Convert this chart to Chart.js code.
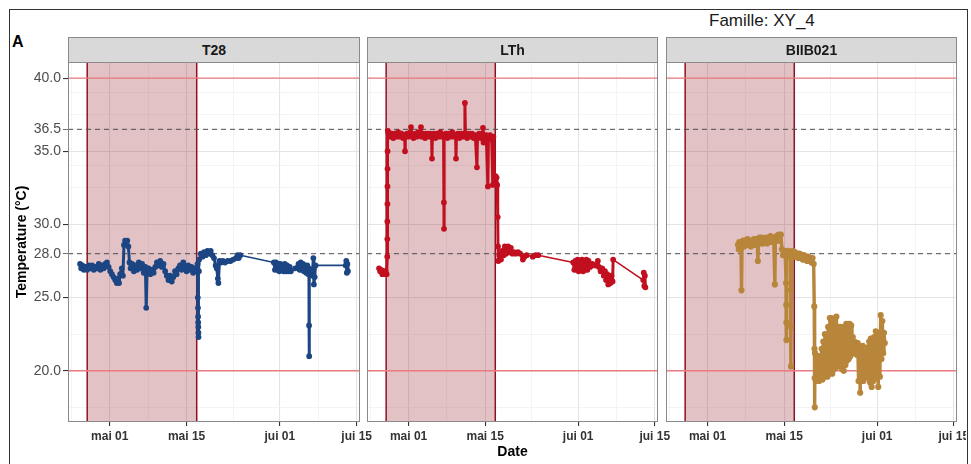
<!DOCTYPE html>
<html>
<head>
<meta charset="utf-8">
<script src="https://cdn.jsdelivr.net/npm/chart.js@4.4.1/dist/chart.umd.min.js"></script>
<style>
  body { margin: 0; background: #fff; width: 971px; height: 464px; overflow: hidden; position: relative;
         font-family: "Liberation Sans", Arial, sans-serif; }
  #frame { position: absolute; left: 9px; top: 9px; width: 959px; height: 480px; border: 1px solid #333; box-sizing: border-box; }
  #clip { position: absolute; left: 0; top: 0; width: 966px; height: 464px; overflow: hidden; }
  .panel { position: absolute; top: 56px; }
  .strip { position: absolute; top: 37px; height: 26px; background: #d9d9d9; border: 1px solid #8a8a8a; box-sizing: border-box;
           display: flex; align-items: center; justify-content: center; font-weight: bold; font-size: 14px; color: #1a1a1a; }
  #famille { position: absolute; left: 709px; top: 11px; font-size: 17px; line-height: 20px; color: #1a1a1a; }
  #tag { position: absolute; left: 12px; top: 33px; font-size: 16px; line-height: 18px; font-weight: bold; color: #000; }
</style>
</head>
<body>
<div id="frame"></div>
<div id="famille">Famille: XY_4</div>
<div id="tag">A</div>
<div id="clip">
  <div class="panel" style="left:0px"><canvas id="c0" width="380" height="408"></canvas></div>
  <div class="panel" style="left:347px"><canvas id="c1" width="331" height="408"></canvas></div>
  <div class="panel" style="left:646px"><canvas id="c2" width="331" height="408"></canvas></div>
</div>
<div class="strip" style="left:68px;width:292px">T28</div>
<div class="strip" style="left:367px;width:291px">LTh</div>
<div class="strip" style="left:666px;width:291px">BIIB021</div>
<script>
// days counted from 1 May
var dateTicks = [0, 14, 31, 45];
var dateLabels = ['mai 01', 'mai 15', 'jui 01', 'jui 15'];
var dateGrid = [-7, 0, 7, 14, 22.5, 31, 38, 45];
var dayRange = [-7.6, 45.6];

var tempTicks = [20, 25, 28, 30, 35, 36.5, 40];
var tempGrid = [17.5, 20, 22.5, 25, 28, 30, 32.5, 34, 35, 36.5, 37.5, 39, 40];
var tempMajor = [20, 25, 30, 35, 40];
var tempRange = [16.5, 41.1];

var heatWindow = [-4.1, 15.85];
var limitLines = [20, 40];
var thresholdLines = [28, 36.5];

var panelNames = ['T28', 'LTh', 'BIIB021'];
var panelColors = ['#1c4583', '#c20f1f', '#b8863b'];

// [day, temperature]
var t28 = [
  [-5.4,27.3],[-5.2,27.0],[-5.0,27.2],[-4.7,26.9],[-4.4,27.1],[-4.1,26.9],[-3.8,27.2],[-3.5,27.0],
  [-3.2,27.2],[-2.9,26.9],[-2.6,27.1],[-2.3,27.0],[-2.0,27.3],[-1.7,26.9],[-1.4,27.2],[-1.1,27.0],
  [-0.8,27.3],[-0.5,27.4],[-0.2,27.1],[0.1,26.8],[0.4,26.6],[0.7,26.4],[1.0,26.2],[1.3,26.0],
  [1.5,26.3],[1.7,26.0],[1.9,26.6],[2.2,27.0],[2.4,26.5],[2.6,28.6],[2.8,28.9],[3.0,28.7],
  [3.2,28.9],[3.4,28.5],[3.6,27.4],[3.8,27.0],[4.1,27.3],[4.4,26.8],[4.7,27.2],[5.0,26.9],
  [5.3,27.4],[5.6,27.0],[5.9,27.3],[6.2,26.7],[6.5,27.1],[6.65,24.3],[6.8,26.7],[7.1,27.0],
  [7.4,26.6],[7.7,26.9],[8.0,26.7],[8.3,27.1],[8.6,27.4],[8.9,27.2],[9.2,27.5],[9.5,27.1],
  [9.8,27.3],[10.1,26.8],[10.4,26.5],[10.7,26.2],[11.0,26.5],[11.3,26.1],[11.6,26.4],[11.9,26.8],
  [12.2,26.6],[12.5,27.0],[12.8,27.2],[13.1,26.9],[13.4,27.4],[13.7,27.1],[14.0,26.8],[14.3,27.2],
  [14.6,26.9],[14.9,27.1],[15.2,26.7],[15.5,27.0],[15.8,26.8],[16.0,27.3],[16.05,25.0],[16.08,24.3],
  [16.1,23.7],[16.12,23.3],[16.14,23.0],[16.16,22.6],[16.18,22.3],[16.25,26.8],[16.3,27.6],[16.6,28.0],
  [16.9,27.8],[17.2,28.1],[17.5,27.9],[17.8,28.2],[18.1,28.0],[18.4,28.2],[18.7,27.9],[19.0,27.7],
  [19.3,27.2],[19.5,27.0],[19.7,26.3],[19.8,26.0],[20.0,27.5],[20.3,27.4],[20.6,27.5],[21.0,27.4],
  [21.5,27.5],[22.0,27.5],[22.5,27.6],[23.0,27.7],[23.3,27.9],[23.5,27.7],[23.8,27.9],
  [29.9,27.4],[30.1,26.9],[30.3,27.4],[30.5,26.9],[30.7,27.3],[30.9,26.8],[31.1,27.3],[31.3,26.9],
  [31.5,27.2],[31.7,26.8],[31.9,27.3],[32.1,26.8],[32.3,27.2],[32.5,26.8],[32.8,27.1],[33.0,26.8],
  [33.8,27.0],[34.4,27.3],[34.6,26.9],[34.8,27.4],[35.0,26.9],[35.2,27.3],[35.4,26.8],[35.6,27.2],
  [35.8,26.7],[36.0,27.2],[36.2,26.6],[36.3,27.0],[36.32,23.1],[36.34,21.0],[36.38,26.6],[36.6,26.9],
  [36.9,26.5],[37.1,27.7],[37.2,25.9],[37.35,26.4],[37.5,27.2],[43.0,27.2],[43.1,27.5],[43.2,26.7],
  [43.3,27.3],[43.4,26.8]
];

var lth = [
  [-5.4,27.0],[-5.2,26.8],[-5.0,26.9],[-4.8,26.6],[-4.6,26.8],[-4.4,26.6],[-4.2,26.8],[-4.0,26.6],
  [-3.9,27.8],[-3.89,29.0],[-3.88,30.2],[-3.87,31.4],[-3.86,32.6],[-3.85,33.8],[-3.84,35.0],[-3.8,36.4],
  [-3.7,36.3],[-3.4,36.0],[-3.1,36.2],[-2.8,35.9],[-2.5,36.2],[-2.2,36.0],[-1.9,36.3],[-1.6,36.0],
  [-1.3,36.2],[-1.0,35.9],[-0.7,36.1],[-0.65,35.0],[-0.6,36.0],[-0.3,36.2],[0.0,36.0],[0.3,36.3],
  [0.44,36.65],[0.6,36.1],[0.9,35.9],[1.2,36.2],[1.5,36.0],[1.8,36.3],[2.1,36.1],[2.27,36.65],
  [2.4,36.0],[2.7,36.2],[3.0,35.9],[3.3,36.2],[3.6,36.0],[3.9,36.2],[4.2,36.0],[4.28,34.5],
  [4.35,36.1],[4.6,36.2],[4.9,35.9],[5.2,36.2],[5.5,36.0],[5.8,36.3],[6.1,36.0],[6.4,36.1],
  [6.46,31.5],[6.48,29.7],[6.5,36.0],[6.8,36.2],[7.1,35.9],[7.4,36.2],[7.7,36.0],[8.0,36.3],
  [8.3,36.0],[8.6,36.1],[8.67,34.5],[8.75,36.0],[9.0,36.2],[9.3,35.9],[9.6,36.2],[9.9,36.0],
  [10.2,36.2],[10.3,38.3],[10.4,36.1],[10.7,35.9],[11.0,36.2],[11.3,36.0],[11.6,36.2],[11.9,35.9],
  [12.2,36.1],[12.5,33.9],[12.6,36.0],[12.9,36.2],[13.2,35.9],[13.5,36.2],[13.6,36.6],[13.7,35.6],
  [13.9,36.0],[14.2,36.1],[14.5,32.6],[14.6,35.9],[14.9,36.1],[15.2,35.8],[15.4,32.7],[15.5,36.0],
  [15.7,33.2],[15.8,33.0],[15.9,33.3],[16.0,32.8],[16.1,33.2],[16.2,32.7],[16.3,30.5],[16.35,28.5],
  [16.4,27.5],[16.6,27.9],[16.9,27.6],[17.1,28.2],[17.4,27.9],[17.6,28.5],[17.8,28.0],[18.0,28.3],
  [18.2,28.5],[18.4,28.1],[18.7,28.4],[19.0,28.0],[19.3,28.1],[19.6,28.0],[20.0,28.1],[20.4,28.0],
  [20.9,27.6],[21.2,27.8],[21.6,27.9],[22.7,27.8],[23.2,27.9],[23.7,27.9],
  [30.1,27.4],[30.3,26.9],[30.5,27.5],[30.7,26.9],[30.9,27.6],[31.1,26.8],[31.3,27.5],[31.5,26.9],
  [31.7,27.6],[31.9,26.8],[32.1,27.5],[32.3,26.9],[32.5,27.6],[32.7,26.9],[32.9,27.5],[33.2,27.1],
  [33.6,27.3],[34.0,27.2],[34.4,27.2],[34.6,27.5],[34.8,27.1],[35.1,26.8],[35.4,27.0],[35.7,26.5],
  [35.9,26.8],[36.1,26.2],[36.3,26.6],[36.5,25.9],[36.7,26.4],[36.9,26.0],[37.1,26.5],[37.3,26.1],
  [37.4,27.6],[42.9,26.2],[43.0,26.7],[43.1,25.8],[43.2,26.5],[43.3,25.7]
];

var biib = [
  [5.56,28.6],[5.7,28.3],[5.8,28.8],[6.0,28.4],[6.1,28.7],[6.2,25.5],[6.3,28.5],[6.5,28.9],
  [6.7,28.5],[6.9,28.9],[7.1,28.6],[7.3,29.0],[7.5,28.6],[7.7,28.9],[7.9,28.5],[8.1,28.9],
  [8.3,28.6],[8.5,29.0],[8.7,28.6],[8.9,29.0],[9.1,28.7],[9.2,27.5],[9.3,28.8],[9.5,29.1],
  [9.7,28.7],[9.9,29.1],[10.1,28.7],[10.3,29.0],[10.5,28.8],[10.7,29.1],[10.9,28.7],[11.1,29.1],
  [11.3,28.8],[11.5,29.2],[11.7,28.8],[11.9,29.1],[12.1,28.9],[12.3,25.9],[12.4,29.0],[12.6,29.2],
  [12.8,28.9],[13.0,29.3],[13.2,28.9],[13.4,29.3],[13.6,28.3],[13.8,27.9],[14.0,28.2],[14.2,27.9],
  [14.35,26.0],[14.38,24.5],[14.4,23.3],[14.42,22.1],[14.5,27.8],[14.7,28.2],[14.9,27.9],[15.1,28.1],
  [15.2,25.5],[15.23,23.0],[15.25,20.3],[15.35,27.9],[15.6,28.2],[15.8,27.8],[16.0,28.1],[16.2,27.8],
  [16.4,28.0],[16.6,27.7],[16.8,28.0],[17.0,27.7],[17.2,27.9],[17.4,27.6],[17.6,27.9],[17.8,27.6],
  [18.0,27.8],[18.2,27.5],[18.4,27.8],[18.6,27.5],[18.8,27.7],[19.0,27.4],[19.2,27.7],[19.4,27.3],
  [19.5,24.4],[19.55,21.5],[19.58,19.5],[19.6,17.5],[19.65,21.2],[19.8,19.3],[19.95,21.0],[20.1,19.4],
  [20.25,21.0],[20.4,19.3],[20.55,20.9],[20.7,19.5],[20.85,21.5],[21.0,19.4],[21.15,22.0],[21.3,19.6],
  [21.45,22.5],[21.6,19.7],[21.75,22.4],[21.9,19.6],[22.05,23.0],[22.2,19.8],[22.35,23.6],[22.5,19.9],
  [22.65,23.6],[22.8,19.8],[22.95,23.0],[23.1,20.1],[23.25,23.4],[23.4,20.2],[23.55,23.7],[23.7,20.4],
  [23.85,22.8],[24.0,20.3],[24.15,23.0],[24.3,20.5],[24.45,23.0],[24.6,20.1],[24.75,22.6],[24.9,20.0],
  [25.05,22.9],[25.2,20.4],[25.35,23.2],[25.5,20.7],[25.65,22.8],[25.8,20.8],[25.95,23.2],[26.1,21.0],
  [26.25,23.1],[26.4,21.2],[26.55,22.3],[26.7,21.2],[26.85,22.0],[27.0,21.4],[27.15,21.9],[27.3,21.1],
  [27.45,21.9],[27.6,19.3],[27.75,21.5],[27.9,18.5],[28.05,21.2],[28.2,19.4],[28.35,21.7],[28.5,19.3],
  [28.65,21.3],[28.8,19.8],[28.95,21.0],[29.1,19.6],[29.25,21.6],[29.4,19.5],[29.55,22.0],[29.7,19.2],
  [29.85,22.2],[30.0,18.9],[30.15,21.4],[30.3,19.3],[30.45,22.3],[30.6,19.8],[30.75,22.7],[30.9,19.5],
  [31.05,21.8],[31.2,18.9],[31.35,22.6],[31.5,19.6],[31.65,23.8],[31.8,20.8],[31.95,23.4],[32.1,21.2],
  [32.25,22.6],[32.4,21.9]
];

var FONT = '"Liberation Sans", Arial, sans-serif';

// heat window, limit lines and panel border, drawn through the panel's own scales
var panelDecor = {
  id: 'panelDecor',
  beforeDatasetsDraw: function (chart) {
    var ctx = chart.ctx, a = chart.chartArea, x = chart.scales.x, y = chart.scales.y;
    ctx.save();
    ctx.beginPath();
    ctx.rect(a.left, a.top, a.width, a.height);
    ctx.clip();
    var x0 = x.getPixelForValue(heatWindow[0]);
    var x1 = x.getPixelForValue(heatWindow[1]);
    ctx.fillStyle = 'rgba(140, 10, 25, 0.25)';
    ctx.fillRect(x0, a.top, x1 - x0, a.height);
    ctx.strokeStyle = '#8e1320';
    ctx.lineWidth = 1.5;
    [x0, x1].forEach(function (px) {
      ctx.beginPath(); ctx.moveTo(px, a.top); ctx.lineTo(px, a.bottom); ctx.stroke();
    });
    ctx.strokeStyle = '#ec7b80';
    ctx.lineWidth = 1.4;
    limitLines.forEach(function (v) {
      var py = y.getPixelForValue(v);
      ctx.beginPath(); ctx.moveTo(a.left, py); ctx.lineTo(a.right, py); ctx.stroke();
    });
    ctx.strokeStyle = '#4d4d4d';
    ctx.lineWidth = 1;
    ctx.setLineDash([5, 4]);
    thresholdLines.forEach(function (v) {
      var py = y.getPixelForValue(v);
      ctx.beginPath(); ctx.moveTo(a.left, py); ctx.lineTo(a.right, py); ctx.stroke();
    });
    ctx.restore();
  },
  afterDraw: function (chart) {
    var ctx = chart.ctx, a = chart.chartArea;
    ctx.save();
    ctx.strokeStyle = '#8a8a8a';
    ctx.lineWidth = 1;
    ctx.strokeRect(Math.round(a.left) + 0.5, Math.round(a.top) - 0.5, Math.round(a.width) - 1, Math.round(a.height));
    ctx.restore();
  }
};

function makePanel(id, series, color, idx) {
  var first = idx === 0;
  var dense = idx === 2 ? 3.4 : 3;
  return new Chart(document.getElementById(id), {
    type: 'line',
    data: {
      datasets: [{
        label: panelNames[idx],
        data: series.map(function (p) { return { x: p[0], y: p[1] }; }),
        borderColor: color,
        backgroundColor: color,
        borderWidth: dense,
        borderJoinStyle: 'round',
        borderCapStyle: 'round',
        // long gaps between readings are joined by a thin line
        segment: {
          borderWidth: function (c) { return c.p1.parsed.x - c.p0.parsed.x > 1 ? 1.6 : dense; }
        },
        pointRadius: 1.4,
        pointHoverRadius: 0,
        tension: 0,
        fill: false
      }]
    },
    options: {
      responsive: false,
      animation: false,
      events: [],
      layout: { padding: { top: 6, bottom: 0, left: first ? 0 : 20, right: 20 } },
      plugins: { legend: { display: false }, tooltip: { enabled: false } },
      scales: {
        x: {
          type: 'linear',
          min: dayRange[0],
          max: dayRange[1],
          afterBuildTicks: function (s) { s.ticks = dateGrid.map(function (v) { return { value: v }; }); },
          afterFit: function (s) { s.height = 42; },
          border: { display: false },
          grid: {
            color: function (c) { return dateTicks.indexOf(c.tick.value) >= 0 ? '#e4e4e4' : '#efefef'; },
            lineWidth: function (c) { return dateTicks.indexOf(c.tick.value) >= 0 ? 1.1 : 0.7; },
            tickLength: 4,
            tickColor: function (c) { return dateTicks.indexOf(c.tick.value) >= 0 ? '#333' : 'rgba(0,0,0,0)'; }
          },
          ticks: {
            autoSkip: false,
            maxRotation: 0,
            padding: 3,
            color: '#333',
            font: { family: FONT, size: 12, weight: 'bold' },
            callback: function (v) { var i = dateTicks.indexOf(v); return i >= 0 ? dateLabels[i] : ''; }
          },
          title: {
            display: idx === 1,
            text: 'Date',
            color: '#000',
            padding: { top: 0, bottom: 3 },
            font: { family: FONT, size: 14, weight: 'bold' }
          }
        },
        y: {
          type: 'linear',
          min: tempRange[0],
          max: tempRange[1],
          afterBuildTicks: function (s) { s.ticks = tempGrid.map(function (v) { return { value: v }; }); },
          afterFit: function (s) {
            s.width = first ? 68 : 0;
            // labels sit well inside the range, so no extra room above or below
            s.paddingTop = 0;
            s.paddingBottom = 0;
          },
          border: { display: false },
          grid: {
            color: function (c) { return tempMajor.indexOf(c.tick.value) >= 0 ? '#e4e4e4' : '#efefef'; },
            lineWidth: function (c) { return tempMajor.indexOf(c.tick.value) >= 0 ? 1.1 : 0.7; },
            drawTicks: first,
            tickLength: 5,
            tickColor: function (c) { return tempTicks.indexOf(c.tick.value) >= 0 ? '#333' : 'rgba(0,0,0,0)'; }
          },
          ticks: {
            display: first,
            autoSkip: false,
            padding: 2,
            color: '#4d4d4d',
            font: { family: FONT, size: 14 },
            callback: function (v) { return tempTicks.indexOf(v) >= 0 ? v.toFixed(1) : ''; }
          },
          title: {
            display: first,
            text: 'Temperature (°C)',
            color: '#000',
            padding: { top: 13.6, bottom: 0 },
            font: { family: FONT, size: 14, weight: 'bold' }
          }
        }
      }
    },
    plugins: [panelDecor]
  });
}

makePanel('c0', t28, panelColors[0], 0);
makePanel('c1', lth, panelColors[1], 1);
makePanel('c2', biib, panelColors[2], 2);
</script>
</body>
</html>
